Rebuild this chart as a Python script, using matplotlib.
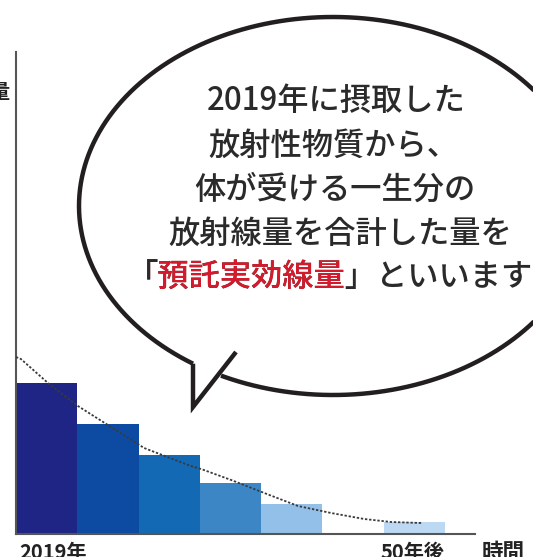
import numpy as np
import matplotlib
matplotlib.use("Agg")
import matplotlib.pyplot as plt
from matplotlib.patches import Ellipse, Polygon

plt.rcParams['font.family'] = ['Noto Sans CJK JP', 'DejaVu Sans']

# ---- data (arbitrary units) ----
slots = [0, 1, 2, 3, 4, 5, 6]
values = [151, 110, 79, 51, 30, 0, 12]
bar_colors = ['#1e2585', '#0d4ba3', '#1469b4', '#3c86c5', '#93c0e8', '#ffffff', '#bcd8f2']
curve_x = [0.0, 0.08, 0.54, 1.01, 1.55, 2.09, 2.85, 3.02, 3.51, 4.05, 4.60, 5.14, 5.68, 6.12, 6.61]
curve_y = [177, 175, 150, 128, 107, 86, 68, 65, 54, 41, 28, 21, 15, 12, 11]
xlabels = ['2019年', '50年後', '時間']
ylabel = '量'
bubble_lines = ['2019年に摂取した', '放射性物質から、', '体が受ける一生分の', '放射線量を合計した量を']
last_line = '「預託実効線量」といいます。'
red_part = '「預託実効線量'

W, H = 533, 557
fig = plt.figure(figsize=(W / 100, H / 100), dpi=100)
fig.patch.set_facecolor('white')

# main chart axes (pixel layout converted to figure fractions)
left_px, right_px, top_px, bot_px = 16, 475, 52, 534
ax = fig.add_axes([left_px / W, (H - bot_px) / H, (right_px - left_px) / W, (bot_px - top_px) / H])
slot_px = 61.3
ax.set_xlim(0, (right_px - left_px) / slot_px)
ax.set_ylim(0, bot_px - top_px)
ax.bar([s + 0.5 for s in slots], values, width=1.0, color=bar_colors, edgecolor='none', zorder=2)
ax.plot(curve_x, curve_y, color='#3a3a3a', lw=1.3, linestyle=(0, (1.3, 1.0)), zorder=3)
for sp in ['top', 'right']:
    ax.spines[sp].set_visible(False)
for sp in ['left', 'bottom']:
    ax.spines[sp].set_color('#555555')
    ax.spines[sp].set_linewidth(1.5)
ax.set_xticks([])
ax.set_yticks([])
ax.patch.set_alpha(0)

# overlay axes in pixel coordinates for annotations
ov = fig.add_axes([0, 0, 1, 1], zorder=5)
ov.set_xlim(0, W)
ov.set_ylim(H, 0)
ov.set_axis_off()
ov.patch.set_alpha(0)

# speech bubble
cx, cy, a, b = 333, 206, 254, 189
ov.add_patch(Ellipse((cx, cy), 2 * a, 2 * b, facecolor='white', edgecolor='none', zorder=1))
t_left = np.arccos((193 - cx) / a)
t_right = np.arccos((221 - cx) / a)
ts = np.linspace(t_left, t_right + 2 * np.pi, 400)
ex = cx + a * np.cos(ts)
ey = cy + b * np.sin(ts)
jl = (193, cy + b * np.sin(t_left))
tip = (193, 407)
tail_end = (236, 352)
ov.add_patch(Polygon([jl, tip, (222, 372), (221, 360), (193, 355)], closed=True,
                     facecolor='white', edgecolor='none', zorder=1))
ov.plot(ex, ey, color='#231f20', lw=3.2, solid_capstyle='butt', zorder=2)
ov.plot([jl[0], tip[0], tail_end[0]], [jl[1], tip[1], tail_end[1]], color='#231f20', lw=3.2,
        solid_joinstyle='miter', solid_capstyle='butt', zorder=2)

txt_color = '#2a2a2a'
red = '#d6192b'
fs = 22.5
fw = 'medium'
line_y = [101, 146, 190, 234]
line_x = [336, 333, 335, 340]
for s, x, y in zip(bubble_lines, line_x, line_y):
    ov.text(x, y, s, fontsize=fs, fontweight=fw, color=txt_color, ha='center', va='center', zorder=3)
x5, y5 = 127, 278
ov.text(x5, y5, last_line, fontsize=fs, fontweight=fw, color=txt_color, ha='left', va='center', zorder=3)
ov.text(x5, y5, red_part, fontsize=fs, fontweight=fw, color=red, ha='left', va='center', zorder=4)
ov.text(x5, y5, '「', fontsize=fs, fontweight=fw, color=txt_color, ha='left', va='center', zorder=5)

# axis labels
ov.text(19, 542, xlabels[0], fontsize=14.5, fontweight='bold', color='#222222', ha='left', va='top')
ov.text(381, 542, xlabels[1], fontsize=14.5, fontweight='bold', color='#222222', ha='left', va='top')
ov.text(482, 542, xlabels[2], fontsize=15.5, fontweight='bold', color='#222222', ha='left', va='top')
ov.text(-1, 91, ylabel, fontsize=14.5, fontweight='bold', color='#222222', ha='center', va='center')

fig.savefig('out.png', dpi=100, facecolor='white')
